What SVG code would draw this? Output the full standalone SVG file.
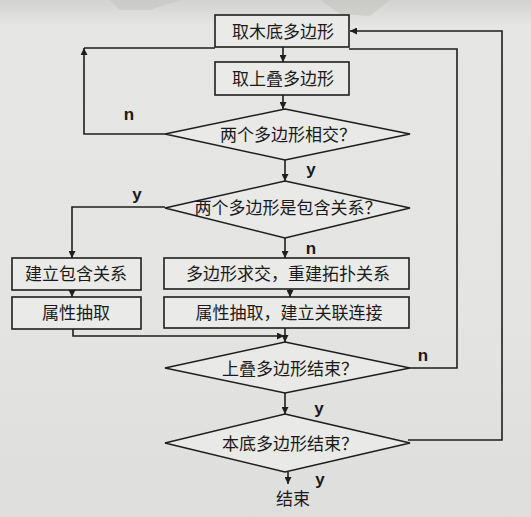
<svg xmlns="http://www.w3.org/2000/svg" width="531" height="517" viewBox="0 0 531 517">
  <defs>
    <marker id="ah" viewBox="0 0 10 10" refX="10" refY="5" markerWidth="7" markerHeight="7" markerUnits="userSpaceOnUse" orient="auto">
      <path d="M0,0 L10,5 L0,10 z" fill="#1e1e1e"/>
    </marker>
    <linearGradient id="bg" x1="0" y1="0" x2="0" y2="1">
      <stop offset="0" stop-color="#d2d2d0"/>
      <stop offset="0.05" stop-color="#e6e6e4"/>
      <stop offset="0.6" stop-color="#e4e4e2"/>
      <stop offset="1" stop-color="#dededc"/>
    </linearGradient>
    <style>
      .box { fill: #eaeae8; stroke: #1e1e1e; stroke-width: 1.6; }
      .dia { fill: #e9e9e7; stroke: #1e1e1e; stroke-width: 1.6; }
      .ln { fill: none; stroke: #1e1e1e; stroke-width: 1.6; }
      .arr { fill: none; stroke: #1e1e1e; stroke-width: 1.6; marker-end: url(#ah); }
      .t { font-family: "Noto Sans CJK SC", "Noto Sans", sans-serif; font-size: 17px; fill: #1a1a1a; text-anchor: middle; }
      .lb { font-family: "Liberation Sans", Arial, sans-serif; font-size: 17px; font-weight: bold; fill: #1a1a1a; text-anchor: middle; }
    </style>
  </defs>
  <rect x="0" y="0" width="531" height="517" fill="url(#bg)"/>
  <path d="M110,0 L180,0 L150,10 L120,10 z" fill="#c8c8c6" opacity="0.7"/>
  <path d="M320,0 L390,0 L370,16 L340,14 z" fill="#c4c4c2" opacity="0.6"/>

  <g id="connectors">
    <path class="arr" d="M283,47 V62"/>
    <path class="arr" d="M283,95 V109"/>
    <path class="arr" d="M165,134 H84 V48"/>
    <path class="ln" d="M84,48 H215"/>
    <path class="ln" d="M410,368 H457 V49 H349"/>
    <path class="arr" d="M408,440 H502 V31 H350"/>
    <path class="arr" d="M285,160 V181"/>
    <path class="arr" d="M165,207 H72 V258"/>
    <path class="arr" d="M285,238 V258"/>
    <path class="arr" d="M72,290 V297"/>
    <path class="arr" d="M290,289 V297"/>
    <path class="arr" d="M73,329 V336 H284"/>
    <path class="arr" d="M285,328 V342"/>
    <path class="arr" d="M285,393 V414"/>
    <path class="arr" d="M288,472 V484"/>
  </g>

  <g id="labels">
    <text class="lb" x="129" y="120">n</text>
    <text class="lb" x="311" y="175">y</text>
    <text class="lb" x="137" y="200">y</text>
    <text class="lb" x="311" y="254">n</text>
    <text class="lb" x="423" y="361">n</text>
    <text class="lb" x="319" y="414">y</text>
    <text class="lb" x="320" y="485">y</text>
  </g>

  <g id="node-start">
    <rect class="box" x="215" y="15" width="134" height="32"/>
    <text class="t" x="283" y="38">取木底多边形</text>
  </g>
  <g id="node-overlay">
    <rect class="box" x="215" y="62" width="134" height="33"/>
    <text class="t" x="283" y="85">取上叠多边形</text>
  </g>
  <g id="node-intersect">
    <polygon class="dia" points="285,109 410,134 285,160 165,134"/>
    <text class="t" x="288" y="141">两个多边形相交？</text>
  </g>
  <g id="node-contain">
    <polygon class="dia" points="285,181 410,208 285,238 165,208"/>
    <text class="t" x="288" y="214">两个多边形是包含关系？</text>
  </g>
  <g id="node-build-contain">
    <rect class="box" x="12" y="258" width="129" height="32"/>
    <text class="t" x="76" y="280">建立包含关系</text>
  </g>
  <g id="node-attr-left">
    <rect class="box" x="12" y="297" width="129" height="32"/>
    <text class="t" x="76" y="319">属性抽取</text>
  </g>
  <g id="node-intersect-topo">
    <rect class="box" x="164" y="258" width="245" height="31"/>
    <text class="t" x="288" y="280">多边形求交，重建拓扑关系</text>
  </g>
  <g id="node-attr-right">
    <rect class="box" x="164" y="297" width="245" height="31"/>
    <text class="t" x="289" y="319">属性抽取，建立关联连接</text>
  </g>
  <g id="node-overlay-end">
    <polygon class="dia" points="285,342 410,368 285,393 165,368"/>
    <text class="t" x="290" y="375">上叠多边形结束？</text>
  </g>
  <g id="node-base-end">
    <polygon class="dia" points="285,414 410,443 285,472 165,443"/>
    <text class="t" x="290" y="450">本底多边形结束？</text>
  </g>
  <g id="node-end">
    <text class="t" x="293" y="505">结束</text>
  </g>
</svg>
